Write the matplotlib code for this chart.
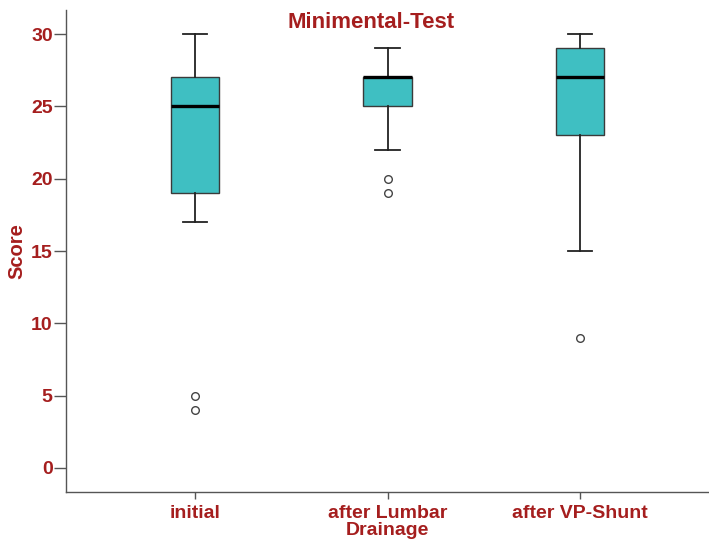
import matplotlib
matplotlib.use("Agg")
import matplotlib.pyplot as plt

categories = ["initial", "after Lumbar\nDrainage", "after VP-Shunt"]
whisker_low = [17, 22, 15]
q1 = [19, 25, 23]
median = [25, 27, 27]
q3 = [27, 27, 29]
whisker_high = [30, 29, 30]
outliers = [[5, 4], [20, 19], [9]]
yticks = [0, 5, 10, 15, 20, 25, 30]

RED = "#A51E1E"
FILL = "#3FBFC2"
plt.rcParams["font.family"] = ["Liberation Sans", "DejaVu Sans"]

fig = plt.figure(figsize=(7.09, 5.42), dpi=100)
ax = fig.add_axes([66/709, 50/542, 1 - 66/709, 482/542])

stats = []
for i, lab in enumerate(categories):
    stats.append(dict(label=lab, whislo=whisker_low[i], q1=q1[i], med=median[i],
                      q3=q3[i], whishi=whisker_high[i], fliers=outliers[i]))

ax.bxp(stats, positions=[1, 2, 3], widths=0.25, patch_artist=True,
       boxprops=dict(facecolor=FILL, edgecolor="#3a3a3a", linewidth=1.0),
       medianprops=dict(color="black", linewidth=2.4),
       whiskerprops=dict(color="#222222", linewidth=1.3),
       capprops=dict(color="#222222", linewidth=1.3),
       capwidths=0.125,
       flierprops=dict(marker="o", markerfacecolor="white", markeredgecolor="#444444",
                       markersize=5.5, markeredgewidth=1.0, linestyle="none"))

ax.set_xlim(0.33, 3.67)
ax.set_ylim(-1.66, 31.66)
ax.set_yticks(yticks)
ax.set_yticklabels([str(v) for v in yticks])
ax.set_xticks([1, 2, 3])
ax.set_xticklabels(categories, linespacing=1.0)

for s in ["top", "right"]:
    ax.spines[s].set_visible(False)
for s in ["left", "bottom"]:
    ax.spines[s].set_color("#555555")
    ax.spines[s].set_linewidth(1.0)

ax.tick_params(axis="both", colors="#555555", width=1.0)
ax.tick_params(axis="y", length=8.6, pad=1)
ax.tick_params(axis="x", length=5, pad=4.5)
for t in ax.get_yticklabels() + ax.get_xticklabels():
    t.set_color(RED)
    t.set_fontweight("bold")
    t.set_fontsize(14)

ax.set_ylabel("Score", color=RED, fontweight="bold", fontsize=14.5)
ax.yaxis.label.set_va("center")
ax.yaxis.set_label_coords((17 - 66) / 643, 0.5)
fig.text(371/709, 1 - 28/542, "Minimental-Test", color=RED, fontweight="bold",
         fontsize=16, ha="center", va="baseline")

fig.savefig("out.png", dpi=100)
